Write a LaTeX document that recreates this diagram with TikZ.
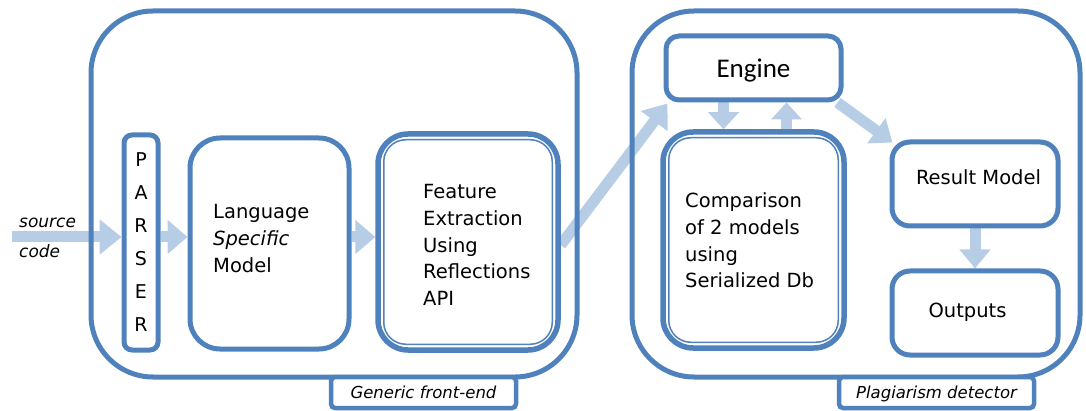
\documentclass[tikz,border=0pt]{standalone}
\usepackage{fontspec}
\setmainfont{DejaVu Sans}
\newfontfamily\engfont{Carlito}
\usetikzlibrary{arrows.meta,backgrounds}
\definecolor{bord}{HTML}{4F81BD}
\definecolor{arr}{HTML}{B7CCE5}
\begin{document}
\begin{tikzpicture}[x=1pt,y=-1pt,
  frame/.style={draw=bord, line width=5pt, inner sep=0pt, rounded corners=62pt},
  box/.style={draw=bord, line width=5pt, fill=white, inner sep=0pt, rounded corners=#1},
  box/.default=18pt,
  inner line/.style={draw=bord, line width=1.5pt, rounded corners=22pt},
  tag/.style={draw=bord, line width=4.5pt, fill=white, inner sep=0pt, rounded corners=4pt,
    minimum height=31pt, text depth=0pt, font=\fontsize{16.5}{20}\selectfont\itshape},
  txt/.style={inner sep=0pt, align=left, font=\fontsize{19.5}{26.7}\selectfont},
  blk/.style 2 args={draw=arr, line width=11pt, -{Triangle[length=#1,width=#2]}}
]
\useasboundingbox (0,0) rectangle (1086,411);
\coordinate (srcstart) at (12,237);

% frames
\node[frame, minimum width=486pt, minimum height=366pt] (front) at (334,194) {};
\node[frame, minimum width=448pt, minimum height=366pt] (plag) at (856,194) {};

% inner boxes
\node[box=8pt, minimum width=34pt, minimum height=215pt,
      font=\fontsize{19}{33}\selectfont, align=center] (parser) at (141,242.5) {P\\A\\R\\S\\E\\R};
\node[box=30pt, minimum width=159pt, minimum height=211pt] (lang) at (269.5,243.5) {};
\node[box=30pt, minimum width=180pt, minimum height=216pt, line width=5.5pt] (feat) at (468,242) {};
\draw[inner line] ([xshift=8.5pt,yshift=-8.5pt]feat.north west) rectangle ([xshift=-8.5pt,yshift=8.5pt]feat.south east);
\node[box=13pt, minimum width=175pt, minimum height=64pt, text depth=0pt,
      font=\engfont\fontsize{27}{30}\selectfont] (eng) at (753.5,68) {Engine};
\node[box=30pt, minimum width=181pt, minimum height=216pt, line width=5.5pt] (comp) at (753.5,240) {};
\draw[inner line] ([xshift=8.5pt,yshift=-8.5pt]comp.north west) rectangle ([xshift=-8.5pt,yshift=8.5pt]comp.south east);
\node[box=18pt, minimum width=166pt, minimum height=84pt] (res) at (975,184) {};
\node[box=18pt, minimum width=166pt, minimum height=84pt] (out) at (975,313) {};

% tags
\node[tag, minimum width=185pt] (tag1) at (423.5,392.5) {Generic front-end};
\node[tag, minimum width=195pt] (tag2) at (936.5,392.5) {Plagiarism detector};

% texts
\node[txt, anchor=west, font=\fontsize{17}{30}\selectfont\itshape] (srct) at (19,238.3) {source\\code};
\node[txt, anchor=west] (langt) at (213,238.4) {Language\\\textit{Specific}\\Model};
\node[txt, anchor=west] (featt) at (423,244.9) {Feature\\Extraction\\Using\\Reflections\\API};
\node[txt, anchor=west] (compt) at (685,240.4) {Comparison\\of 2 models\\using\\Serialized Db};
\node[txt, anchor=base] (rest) at (978.5,185) {Result Model};
\node[txt, anchor=base] (outt) at (967.5,318) {Outputs};

% connectors (below the frame lines)
\begin{pgfonlayer}{background}
\draw[blk={22pt}{34pt}] (srcstart) -- (parser.west |- srcstart);
\draw[blk={20pt}{33pt}] (parser.east |- srcstart) -- (lang.west |- srcstart);
\draw[blk={20pt}{33pt}] (lang.east |- srcstart) -- (feat.west |- srcstart);
\draw[blk={22pt}{32pt}] ([yshift=-3pt]feat.east) -- ([xshift=4pt,yshift=-1pt]eng.south west);
\draw[blk={17pt}{30pt}] ([xshift=-30pt]eng.south) -- ([xshift=-30pt]comp.north);
\draw[blk={17pt}{30pt}] ([xshift=33pt]comp.north) -- ([xshift=33pt]eng.south);
\draw[blk={20pt}{30pt}] ([xshift=-6pt]eng.south east) -- ([xshift=3pt,yshift=-3pt]res.north west);
\draw[blk={19pt}{30pt}] (res.south) -- (out.north);
\end{pgfonlayer}
\end{tikzpicture}
\end{document}
